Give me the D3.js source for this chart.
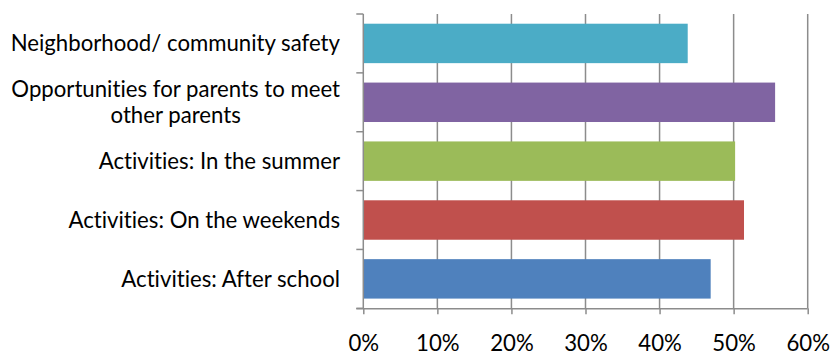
<!DOCTYPE html>
<html><head><meta charset="utf-8">
<script src="https://cdn.jsdelivr.net/npm/d3@7"></script>
<style>html,body{margin:0;padding:0;background:#fff;}svg{display:block;}text{font-variant-ligatures:none;font-feature-settings:"liga" 0;}</style>
</head><body>
<svg id="chart" width="830" height="356"></svg>
<script>
const categories = [
  ["Neighborhood/ community safety"],
  ["Opportunities for parents to meet", "other parents"],
  ["Activities: In the summer"],
  ["Activities: On the weekends"],
  ["Activities: After school"]
];
const values = [0.438, 0.556, 0.502, 0.514, 0.469];
const colors = ["#4BACC6", "#8064A2", "#9BBB59", "#C0504D", "#4F81BD"];
const xTicks = [0, 0.1, 0.2, 0.3, 0.4, 0.5, 0.6];

(function () {
const svg = d3.select("#chart");
const mLeft = 363.3, mRight = 807.7, mTop = 14, mBottom = 308.3;
const font = "Lato, 'Open Sans', sans-serif";
const fs = 22.2;
const axisColor = "#8c8c8c";

const x = d3.scaleLinear().domain([0, 0.6]).range([mLeft, mRight]);
const y = d3.scaleBand().domain(d3.range(categories.length)).range([mTop, mBottom])
  .paddingInner(0.33).paddingOuter(0.165);
const yEdges = d3.scaleLinear().domain([0, categories.length]).range([mTop, mBottom]);

svg.append("g").selectAll("line").data(xTicks.slice(1)).join("line")
  .attr("x1", d => x(d)).attr("x2", d => x(d))
  .attr("y1", mTop).attr("y2", mBottom)
  .attr("stroke", axisColor).attr("stroke-width", 1.5);

svg.append("g").selectAll("rect").data(values).join("rect")
  .attr("x", x(0)).attr("y", (d, i) => y(i))
  .attr("width", d => x(d) - x(0)).attr("height", y.bandwidth())
  .attr("fill", (d, i) => colors[i]);

const xAxis = d3.axisBottom(x).tickValues(xTicks).tickFormat(d3.format(".0%"))
  .tickSize(6).tickPadding(20.5);
const gx = svg.append("g").attr("transform", `translate(0,${mBottom})`).call(xAxis);
gx.select(".domain").attr("d", `M${mLeft - 7},0.5H${mRight}`).attr("stroke", axisColor).attr("stroke-width", 1.5);
gx.selectAll(".tick line").attr("stroke", axisColor).attr("stroke-width", 1.5);
gx.selectAll(".tick text").attr("font-family", font).attr("font-size", fs).attr("fill", "#000");

const gy = svg.append("g");
gy.append("line").attr("x1", mLeft).attr("x2", mLeft).attr("y1", mTop).attr("y2", mBottom)
  .attr("stroke", axisColor).attr("stroke-width", 1.5);
gy.selectAll("line.t").data(d3.range(categories.length + 1)).join("line").attr("class", "t")
  .attr("x1", mLeft - 7).attr("x2", mLeft).attr("y1", d => yEdges(d)).attr("y2", d => yEdges(d))
  .attr("stroke", axisColor).attr("stroke-width", 1.5);

const labelRight = 340, lineH = 26;
categories.forEach((lines, i) => {
  const cy = y(i) + y.bandwidth() / 2;
  const t = svg.append("text").attr("font-family", font).attr("font-size", fs).attr("fill", "#000");
  if (lines.length === 1) {
    t.attr("x", labelRight).attr("y", cy + 8).attr("text-anchor", "end").text(lines[0]);
  } else {
    const tmp = svg.append("text").attr("font-family", font).attr("font-size", fs).text(lines[0]);
    const w = tmp.node().getComputedTextLength(); tmp.remove();
    const cx = labelRight - w / 2;
    lines.forEach((ln, k) => {
      t.append("tspan").attr("x", cx).attr("text-anchor", "middle")
        .attr("y", cy + 8 - lineH / 2 + k * lineH).text(ln);
    });
  }
});
})();
</script>
</body></html>
